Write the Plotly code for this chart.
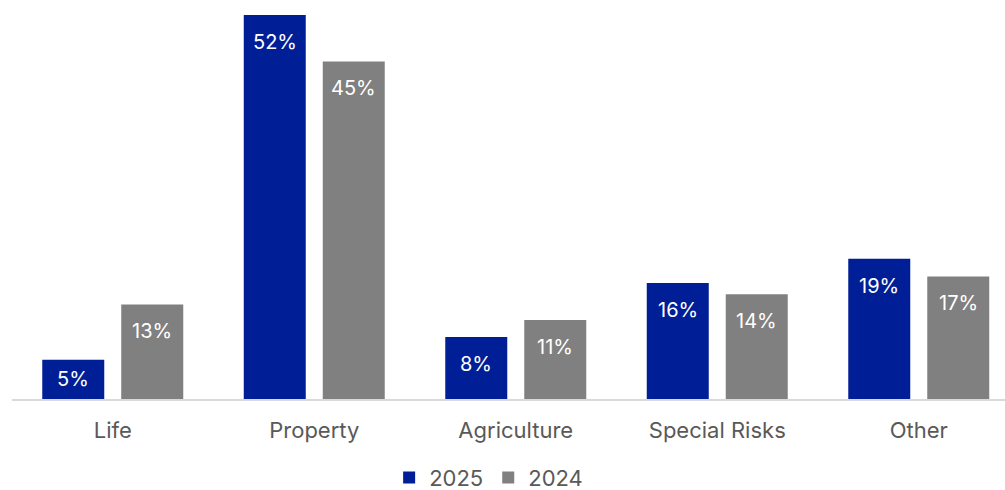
import plotly.graph_objects as go

categories = ["Life", "Property", "Agriculture", "Special Risks", "Other"]
series_names = ["2025", "2024"]
values_2025 = [5.3, 52.0, 8.4, 15.7, 19.0]
values_2024 = [12.8, 45.7, 10.7, 14.2, 16.6]
labels_2025 = ["5%", "52%", "8%", "16%", "19%"]
labels_2024 = ["13%", "45%", "11%", "14%", "17%"]

BLUE = "#001E96"
GRAY = "#808080"
TXT = "#595959"
FONT = "Inter"

BAR_W = 0.3077      # bar width in category units
HALF_SEP = 0.196    # distance of each bar centre from category centre

fig = go.Figure()
for name, vals, col, sign in [(series_names[0], values_2025, BLUE, -1), (series_names[1], values_2024, GRAY, 1)]:
    fig.add_trace(go.Bar(x=categories, y=vals, name=name, marker=dict(color=col, line=dict(width=0)),
                         width=BAR_W, offset=sign * HALF_SEP - BAR_W / 2, hoverinfo="skip"))

# labels inside bars, near the top
for labels, vals, sign in [(labels_2025, values_2025, -1), (labels_2024, values_2024, 1)]:
    for i, (lab, v) in enumerate(zip(labels, vals)):
        y = max(v - 3.65, v / 2)
        fig.add_annotation(x=i + sign * HALF_SEP, y=y, text=lab, showarrow=False,
                           yanchor="middle", xanchor="center",
                           font=dict(family=FONT, size=20, color="white"))

fig.update_layout(
    width=1005, height=490,
    margin=dict(l=12, r=0, t=15, b=91, autoexpand=False),
    paper_bgcolor="white", plot_bgcolor="white",
    barmode="overlay",
    font=dict(family=FONT, size=22, color=TXT),
    showlegend=True,
    legend=dict(orientation="h", x=0.48, xanchor="center", yref="container", y=0.025, yanchor="middle",
                font=dict(family=FONT, size=22, color=TXT), itemwidth=30,
                traceorder="normal", bgcolor="rgba(0,0,0,0)"),
    xaxis=dict(range=[-0.5, 4.428], showline=True, linecolor="#D9D9D9", linewidth=1.5,
               ticks="outside", ticklen=11, tickcolor="rgba(0,0,0,0)", automargin=False,
               tickfont=dict(family=FONT, size=22, color=TXT), showgrid=False, zeroline=False,
               fixedrange=True),
    yaxis=dict(range=[0, 52], visible=False, showgrid=False, zeroline=False, fixedrange=True,
               automargin=False),
)

fig.write_html("out.html", config={"displayModeBar": False})
